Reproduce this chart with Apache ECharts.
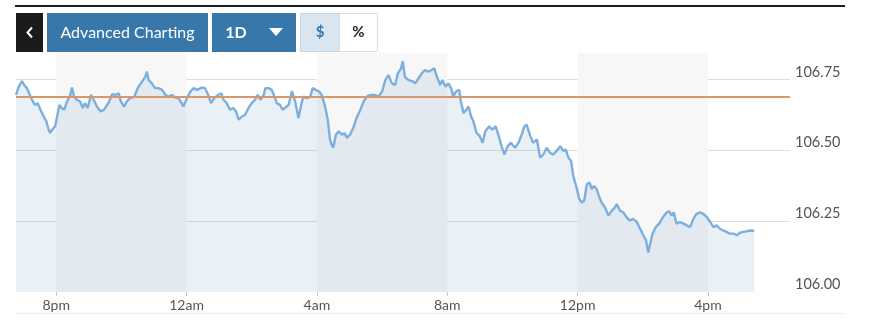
<!DOCTYPE html>
<html>
<head>
<meta charset="utf-8">
<script src="https://cdn.jsdelivr.net/npm/echarts@6/dist/echarts.min.js"></script>
<style>
html,body{margin:0;padding:0;background:#fff;}
#chart{width:870px;height:325px;}
</style>
</head>
<body>
<div id="chart"></div>
<script>
// minutes relative to 8pm of the previous day
const timeMin = [-74,-69,-63,-59,-54,-51,-47,-43,-39,-34,-29,-23,-18,-14,-11,-6,-2,1,6,10,15,20,26,29,33,38,44,49,53,58,64,69,75,82,88,96,103,109,115,119,125,130,136,144,150,158,164,167,170,176,182,188,195,201,207,213,219,225,231,234,241,247,253,259,268,274,280,285,291,298,304,308,314,320,326,331,336,342,348,354,360,366,371,376,382,385,391,397,402,406,412,417,421,428,434,440,446,451,455,461,468,472,478,484,489,495,500,504,507,510,515,520,526,531,535,541,547,553,560,566,572,578,587,593,600,606,612,618,624,629,635,638,642,648,655,661,667,673,679,685,691,696,701,707,711,717,722,727,731,736,742,745,750,755,759,764,768,774,780,785,790,797,803,809,814,820,825,831,837,845,851,857,862,866,872,878,885,891,897,903,909,915,921,928,934,938,943,948,952,958,963,968,972,977,982,986,990,995,1000,1004,1010,1017,1023,1029,1032,1038,1044,1050,1056,1062,1069,1075,1081,1086,1090,1093,1098,1104,1110,1117,1124,1129,1133,1137,1142,1148,1155,1161,1167,1173,1179,1185,1191,1198,1204,1210,1216,1222,1228,1234,1240,1247,1253,1259,1265,1271,1277,1285];
const dxyValues = [106.695,106.724,106.744,106.730,106.719,106.713,106.689,106.672,106.660,106.666,106.643,106.619,106.602,106.573,106.561,106.576,106.584,106.579,106.660,106.649,106.643,106.672,106.695,106.721,106.689,106.678,106.672,106.649,106.666,106.649,106.695,106.678,106.654,106.637,106.643,106.666,106.698,106.695,106.701,106.672,106.654,106.672,106.684,106.689,106.719,106.742,106.759,106.777,106.748,106.736,106.719,106.719,106.713,106.695,106.689,106.695,106.686,106.684,106.666,106.654,106.684,106.707,106.719,106.713,106.721,106.719,106.695,106.666,106.684,106.695,106.701,106.678,106.666,106.643,106.649,106.637,106.608,106.619,106.625,106.649,106.666,106.678,106.695,106.678,106.695,106.719,106.719,106.713,106.689,106.666,106.660,106.643,106.649,106.660,106.709,106.672,106.614,106.660,106.689,106.684,106.689,106.719,106.713,106.707,106.695,106.654,106.608,106.538,106.520,106.509,106.555,106.567,106.555,106.561,106.544,106.555,106.579,106.614,106.643,106.672,106.689,106.695,106.695,106.689,106.707,106.748,106.765,106.736,106.730,106.771,106.789,106.814,106.759,106.748,106.744,106.736,106.753,106.771,106.783,106.777,106.783,106.789,106.759,106.730,106.748,106.724,106.736,106.719,106.689,106.707,106.713,106.672,106.631,106.643,106.654,106.619,106.602,106.561,106.549,106.526,106.567,106.584,106.573,106.584,106.555,106.514,106.485,106.514,106.526,106.509,106.526,106.555,106.584,106.590,106.555,106.526,106.538,106.474,106.485,106.509,106.491,106.485,106.497,106.514,106.497,106.503,106.474,106.462,106.409,106.369,106.328,106.316,106.322,106.380,106.386,106.363,106.374,106.363,106.334,106.316,106.299,106.270,106.287,106.299,106.310,106.287,106.281,106.264,106.252,106.258,106.247,106.223,106.200,106.182,106.139,106.165,106.206,106.229,106.241,106.264,106.281,106.284,106.270,106.281,106.241,106.247,106.241,106.235,106.229,106.258,106.276,106.281,106.276,106.264,106.247,106.229,106.235,106.223,106.217,106.212,106.206,106.206,106.200,106.209,106.212,106.214,106.217,106.216];
const prevClose = 106.685;
const xTickValues = [0, 240, 480, 720, 960, 1200];
const xTickLabels = ['8pm', '12am', '4am', '8am', '12pm', '4pm'];
const bandStarts = [0, 480, 960];
const bandEnds = [240, 720, 1200];

const chart = echarts.init(document.getElementById('chart'), null, {renderer: 'canvas'});
const lineData = timeMin.map((t, i) => [t, dxyValues[i]]);
const bandData = bandStarts.map((s, i) => [s, bandEnds[i]]);

function btn(x, y, w, h, fill, stroke) {
  return {type: 'rect', shape: {x: x, y: y, width: w, height: h}, style: {fill: fill, stroke: stroke || null, lineWidth: stroke ? 1 : 0}, silent: true};
}
function txt(x, y, s, color, size, weight) {
  return {type: 'text', x: x, y: y, style: {text: s, fill: color, font: (weight || 'normal') + ' ' + size + 'px Lato', textAlign: 'center', textVerticalAlign: 'middle'}, silent: true};
}

chart.setOption({
  animation: false,
  backgroundColor: '#ffffff',
  grid: {left: 16, right: 80, top: 53, bottom: 33, containLabel: false},
  xAxis: {
    type: 'value', min: -74, max: 1351,
    axisLine: {show: false},
    splitLine: {show: false},
    axisTick: {show: true, customValues: xTickValues, length: 4, lineStyle: {color: '#c8c8c8'}},
    axisLabel: {
      customValues: xTickValues, margin: 6,
      color: '#555', fontFamily: 'Lato', fontSize: 14,
      formatter: v => { const i = xTickValues.indexOf(v); return i >= 0 ? xTickLabels[i] : ''; }
    }
  },
  yAxis: {
    type: 'value', position: 'right', min: 106.0, max: 106.843, interval: 0.25,
    axisLine: {show: false}, axisTick: {show: false},
    axisLabel: {showMaxLabel: false, margin: 5, color: '#555', fontFamily: 'Lato', fontSize: 14.5,
      verticalAlign: 'bottom', padding: [0, 0, 0, 0],
      formatter: v => v.toFixed(2)},
    splitLine: {showMaxLine: false, showMinLine: false, lineStyle: {color: '#dedede', width: 1}}
  },
  series: [
    {
      type: 'custom', z: 0, silent: true,
      data: bandData,
      renderItem: (params, api) => {
        const cs = params.coordSys;
        const x0 = api.coord([api.value(0), 106])[0];
        const x1 = api.coord([api.value(1), 106])[0];
        return {type: 'rect', shape: {x: x0, y: cs.y, width: x1 - x0, height: cs.height}, style: {fill: '#f7f7f7'}};
      }
    },
    {
      type: 'line', z: 2, data: lineData, showSymbol: false, symbol: 'none',
      lineStyle: {color: '#7cafde', width: 2.4},
      areaStyle: {color: 'rgba(80,136,182,0.18)', origin: 'start'},
      markLine: {
        silent: true, symbol: 'none', label: {show: false},
        lineStyle: {color: '#d9966a', width: 2, type: 'solid'},
        data: [{yAxis: prevClose}]
      }
    }
  ],
  graphic: [
    {type: 'line', shape: {x1: 15, y1: 6, x2: 845, y2: 6}, style: {stroke: '#1e1e1e', lineWidth: 2}, silent: true},
    {type: 'line', shape: {x1: 16, y1: 313.5, x2: 845, y2: 313.5}, style: {stroke: '#ececec', lineWidth: 1}, silent: true},
    btn(16, 13, 27, 39, '#1b1b1b'),
    {type: 'polyline', shape: {points: [[32, 27.5], [27.5, 32.5], [32, 37.5]]}, style: {stroke: '#fff', lineWidth: 2, fill: null}, silent: true},
    btn(47, 13, 161, 39, '#3877a9'),
    txt(127.5, 32.5, 'Advanced Charting', '#ffffff', 16, 'normal'),
    btn(212, 13, 84, 39, '#3877a9'),
    txt(236, 32.5, '1D', '#ffffff', 16, 'bold'),
    {type: 'polygon', shape: {points: [[269, 28], [283, 28], [276, 36]]}, style: {fill: '#fff'}, silent: true},
    btn(300.5, 13.5, 39, 38, '#d9e6f0', '#c5d6e4'),
    txt(320, 32.5, '$', '#3877a9', 15, 'bold'),
    btn(339.5, 13.5, 38, 38, '#ffffff', '#d3dfe9'),
    txt(358.5, 32.5, '%', '#222', 15, 'bold')
  ]
});
</script>
</body>
</html>
